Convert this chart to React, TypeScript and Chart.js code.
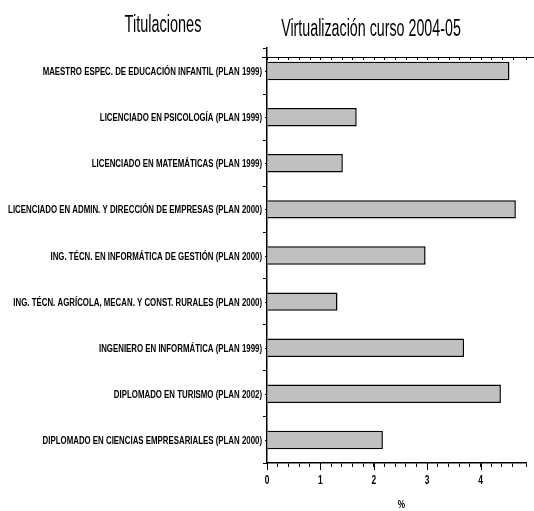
import React, { useEffect, useRef } from "react";
import { Chart, registerables } from "chart.js";

Chart.register(...registerables);

const categories = [
  "MAESTRO ESPEC. DE EDUCACIÓN INFANTIL (PLAN 1999)",
  "LICENCIADO EN PSICOLOGÍA (PLAN 1999)",
  "LICENCIADO EN MATEMÁTICAS (PLAN 1999)",
  "LICENCIADO EN ADMIN. Y DIRECCIÓN DE EMPRESAS (PLAN 2000)",
  "ING. TÉCN. EN INFORMÁTICA DE GESTIÓN (PLAN 2000)",
  "ING. TÉCN. AGRÍCOLA, MECAN. Y CONST. RURALES (PLAN 2000)",
  "INGENIERO EN INFORMÁTICA (PLAN 1999)",
  "DIPLOMADO EN TURISMO (PLAN 2002)",
  "DIPLOMADO EN CIENCIAS EMPRESARIALES (PLAN 2000)",
];

const values = [4.54, 1.68, 1.42, 4.66, 2.97, 1.32, 3.69, 4.38, 2.17];

const leftTitle = "Titulaciones";
const mainTitle = "Virtualización curso 2004-05";
const axisTitle = "%";

const FONT = "'Liberation Sans', Arial, sans-serif";

function narrowText(ctx: any, text: string, x: number, y: number, align: string, sx: number) {
  ctx.save();
  ctx.translate(x, y);
  ctx.scale(sx, 1);
  ctx.textAlign = align;
  ctx.fillText(text, 0, 0);
  ctx.restore();
}

const decorPlugin = {
  id: "decor",
  afterDraw(chart: any) {
    const ctx = chart.ctx;
    const area = chart.chartArea;
    const xs = chart.scales.x;
    const ys = chart.scales.y;
    ctx.save();
    ctx.fillStyle = "#000";
    ctx.textBaseline = "alphabetic";
    // titles
    ctx.font = `normal 23px ${FONT}`;
    narrowText(ctx, leftTitle, 163, 32, "center", 0.63);
    narrowText(ctx, mainTitle, 371, 36, "center", 0.62);
    // category labels
    ctx.font = `bold 11px ${FONT}`;
    categories.forEach((c, i) => {
      narrowText(ctx, c, area.left - 5, ys.getPixelForValue(i) + 4, "right", 0.715);
    });
    // x tick labels
    ctx.font = `bold 12px ${FONT}`;
    for (const t of xs.ticks) {
      const n = t.value;
      if (Math.abs(n - Math.round(n)) < 1e-6) {
        narrowText(ctx, String(Math.round(n)), xs.getPixelForValue(n), area.bottom + 21, "center", 0.7);
      }
    }
    ctx.strokeStyle = "#000";
    ctx.lineWidth = 1;
    // longer major ticks on the x axis
    ctx.beginPath();
    for (const t of xs.ticks) {
      const n = t.value;
      if (Math.abs(n - Math.round(n)) < 1e-6) {
        const px = Math.round(xs.getPixelForValue(n)) + 0.5;
        ctx.moveTo(px, area.bottom);
        ctx.lineTo(px, area.bottom + 7);
      }
    }
    ctx.stroke();
    // small center marks on the y axis
    ctx.beginPath();
    categories.forEach((_, i) => {
      const py = Math.round(ys.getPixelForValue(i)) + 0.5;
      ctx.moveTo(area.left - 2, py);
      ctx.lineTo(area.left, py);
    });
    ctx.stroke();
    // top border line with small ticks
    const yTop = area.top + 9;
    ctx.beginPath();
    ctx.moveTo(area.left - 5, yTop + 0.5);
    ctx.lineTo(chart.width, yTop + 0.5);
    ctx.stroke();
    ctx.beginPath();
    for (const t of xs.ticks) {
      const px = Math.round(xs.getPixelForValue(t.value)) + 0.5;
      ctx.moveTo(px, yTop);
      ctx.lineTo(px, yTop + 3);
    }
    ctx.stroke();
    // axis title
    ctx.font = `bold 11px ${FONT}`;
    narrowText(ctx, axisTitle, (area.left + area.right) / 2 + 5, chart.height - 3, "center", 0.75);
    ctx.restore();
  },
};

export default function App() {
  const ref = useRef<HTMLCanvasElement>(null);
  useEffect(() => {
    const chart = new Chart(ref.current!, {
      type: "bar",
      data: {
        labels: categories,
        datasets: [
          {
            data: values,
            backgroundColor: "#c0c0c0",
            borderColor: "#000",
            borderWidth: 1.5,
            categoryPercentage: 1,
            barPercentage: 0.4,
          },
        ],
      },
      options: {
        indexAxis: "y",
        animation: false,
        responsive: false,
        layout: { padding: { top: 48, right: 8, bottom: 0, left: 0 } },
        plugins: { legend: { display: false }, tooltip: { enabled: false } },
        scales: {
          x: {
            min: 0,
            max: 4.85,
            position: "bottom",
            border: { color: "#000", width: 1.5 },
            grid: { drawOnChartArea: false, tickLength: 4, color: "#000" },
            ticks: {
              stepSize: 0.2,
              autoSkip: false,
              maxRotation: 0,
              color: "rgba(0,0,0,0)",
              padding: 2,
              font: { family: FONT, size: 12, weight: "bold" },
              callback: (v: any) => {
                const n = Number(v);
                return Math.abs(n - Math.round(n)) < 1e-6 ? String(Math.round(n)) : "";
              },
            },
            afterFit: (s: any) => {
              s.height = 48;
            },
          },
          y: {
            border: { color: "#000", width: 1.5 },
            grid: { drawOnChartArea: false, tickLength: 4, color: "#000", offset: true },
            ticks: { display: false },
            afterFit: (s: any) => {
              s.width = 267;
            },
          },
        },
      },
      plugins: [decorPlugin],
    } as any);
    return () => chart.destroy();
  }, []);
  return (
    <div style={{ position: "absolute", left: 0, top: 0, width: 534, height: 511, background: "#fff" }}>
      <canvas ref={ref} width={534} height={511} />
    </div>
  );
}
